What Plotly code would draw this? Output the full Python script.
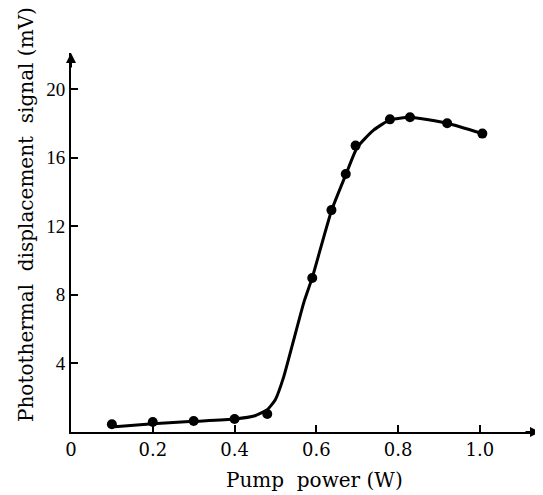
import plotly.graph_objects as go

# Measured points
pump_power = [0.10, 0.20, 0.30, 0.40, 0.48, 0.59, 0.637, 0.672, 0.696, 0.78, 0.829, 0.92, 1.006]
signal_mv = [0.45, 0.58, 0.64, 0.76, 1.05, 8.98, 12.94, 15.04, 16.7, 18.23, 18.35, 18.0, 17.4]

# Smooth curve drawn through the points
curve_x = [0.107, 0.20, 0.30, 0.40, 0.45, 0.48, 0.50, 0.52, 0.545, 0.57, 0.59,
           0.637, 0.672, 0.70, 0.74, 0.78, 0.83, 0.92, 1.006]
curve_y = [0.30, 0.48, 0.62, 0.76, 0.95, 1.3, 1.9, 3.2, 5.4, 7.6, 9.0,
           12.9, 15.0, 16.6, 17.6, 18.2, 18.35, 18.0, 17.4]

x_ticks = [0, 0.2, 0.4, 0.6, 0.8, 1.0]
x_tick_labels = ["0", "0.2", "0.4", "0.6", "0.8", "1.0"]
y_ticks = [4, 8, 12, 16, 20]
y_tick_labels = ["4", "8", "12", "16", "20"]

X_MAX = 1.147
Y_MAX = 22.1

fig = go.Figure()
fig.add_trace(go.Scatter(x=curve_x, y=curve_y, mode="lines",
                         line=dict(color="black", width=3, shape="spline", smoothing=0.5),
                         hoverinfo="skip", showlegend=False))
fig.add_trace(go.Scatter(x=pump_power, y=signal_mv, mode="markers",
                         marker=dict(color="black", size=10),
                         showlegend=False))

fig.update_layout(
    width=535, height=487,
    margin=dict(l=63, r=3, t=45, b=63),
    paper_bgcolor="white", plot_bgcolor="white",
    xaxis=dict(range=[0, X_MAX], tickvals=x_ticks, ticktext=x_tick_labels,
               showline=True, linecolor="black", linewidth=2, showgrid=False,
               zeroline=False, ticks="inside", ticklen=7, tickwidth=2, tickcolor="black",
               tickfont=dict(family="DejaVu Serif", size=18, color="black")),
    yaxis=dict(range=[0, Y_MAX], tickvals=y_ticks, ticktext=y_tick_labels,
               showline=True, linecolor="black", linewidth=2, showgrid=False,
               zeroline=False, ticks="inside", ticklen=7, tickwidth=2, tickcolor="black",
               tickfont=dict(family="Liberation Serif", size=19, color="black")),
    annotations=[
        dict(x=X_MAX, y=0, xref="x", yref="y", ax=-16, ay=0, text="", showarrow=True,
             arrowhead=2, arrowsize=1, arrowwidth=2, arrowcolor="black"),
        dict(x=0, y=Y_MAX, xref="x", yref="y", ax=0, ay=16, text="", showarrow=True,
             arrowhead=2, arrowsize=1, arrowwidth=2, arrowcolor="black"),
        dict(x=0.52, y=0, xref="paper", yref="paper", xanchor="center", yanchor="top",
             yshift=-34, showarrow=False, text="Pump\u00a0\u00a0power (W)",
             font=dict(family="DejaVu Serif", size=20, color="black")),
        dict(x=0, y=0.5726, xref="paper", yref="paper", xanchor="center", yanchor="middle",
             xshift=-45, showarrow=False, textangle=-90,
             text="Photothermal\u00a0\u00a0displacement\u00a0\u00a0signal (mV)",
             font=dict(family="DejaVu Serif", size=20, color="black")),
    ],
)

fig.write_html("out.html")
